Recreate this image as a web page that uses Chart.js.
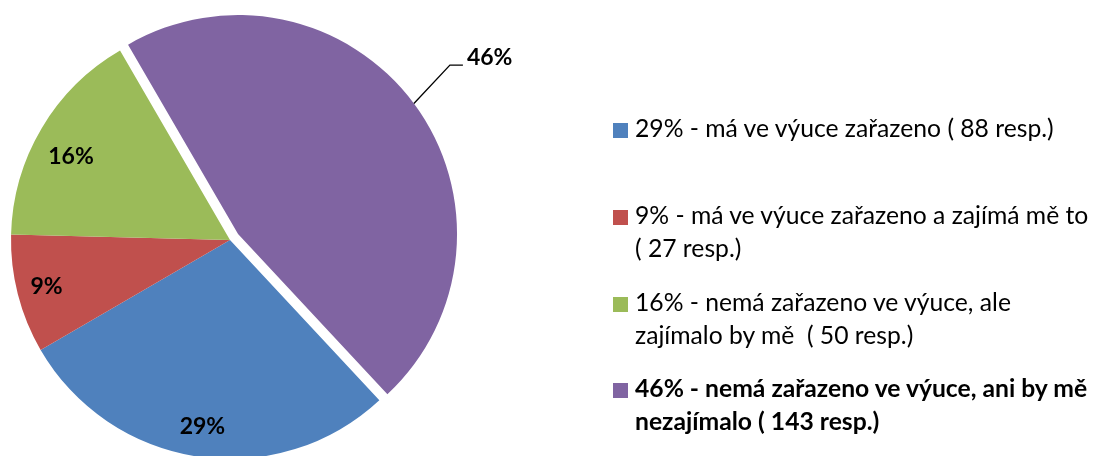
<!DOCTYPE html>
<html><head><meta charset="utf-8">
<script src="https://cdn.jsdelivr.net/npm/chart.js@4.4.1/dist/chart.umd.min.js"></script>
<style>
html,body{margin:0;padding:0;background:#fff;}
#wrap{position:relative;width:1095px;height:456px;overflow:hidden;background:#fff;}
#c{position:absolute;left:0;top:0;}
.item{position:absolute;left:613px;font-family:Lato,"Open Sans",sans-serif;font-size:24.7px;line-height:33px;color:#000;white-space:pre;}
.sw{position:absolute;left:0;top:12px;width:15px;height:15px;}
.txt{position:absolute;left:22px;top:0;}
.b{font-weight:bold;}
</style></head><body>
<div id="wrap"><canvas id="c" width="1095" height="456"></canvas><div id="legend"></div></div>
<script>
// ---- data ----
const categories = [
  "má ve výuce zařazeno",
  "má ve výuce zařazeno a zajímá mě to",
  "nemá zařazeno ve výuce, ale zajímalo by mě",
  "nemá zařazeno ve výuce, ani by mě nezajímalo"
];
const responses = [88, 27, 50, 143];
const legendLines = [
  ["29% - má ve výuce zařazeno ( 88 resp.)"],
  ["9% - má ve výuce zařazeno a zajímá mě to", "( 27 resp.)"],
  ["16% - nemá zařazeno ve výuce, ale", "zajímalo by mě  ( 50 resp.)"],
  ["46% - nemá zařazeno ve výuce, ani by mě", "nezajímalo ( 143 resp.)"]
];
const colors = ["#4F81BD", "#C0504D", "#9BBB59", "#8064A2"];
const boldItem = [false, false, false, true];
const explodeDist = [0, 0, 0, 10];
const labelRadius = [0.86, 0.865, 0.82, 1];
const labelAngleFrac = [0.5, 0.5, 0.45, 0.5];
const legendTops = [111, 198, 285, 371];

const total = responses.reduce((a, b) => a + b, 0);
const pct = responses.map(v => Math.round(v / total * 100));

// ---- legend (HTML text) ----
const lg = document.getElementById('legend');
legendLines.forEach((lines, i) => {
  const it = document.createElement('div');
  it.className = 'item' + (boldItem[i] ? ' b' : '');
  it.style.top = legendTops[i] + 'px';
  const sw = document.createElement('div');
  sw.className = 'sw'; sw.style.background = colors[i];
  const tx = document.createElement('div');
  tx.className = 'txt';
  tx.textContent = lines.join('\n');
  it.appendChild(sw); it.appendChild(tx);
  lg.appendChild(it);
});

// ---- plugins ----
const explodePlugin = {
  id: 'explode',
  afterDatasetsUpdate(chart) {
    const meta = chart.getDatasetMeta(0);
    meta.data.forEach((arc, i) => {
      const d = explodeDist[i];
      if (!d) return;
      const mid = (arc.startAngle + arc.endAngle) / 2;
      arc.x += Math.cos(mid) * d;
      arc.y += Math.sin(mid) * d;
    });
  }
};
const labelPlugin = {
  id: 'pctLabels',
  afterDatasetsDraw(chart) {
    const ctx = chart.ctx;
    const meta = chart.getDatasetMeta(0);
    ctx.save();
    ctx.font = 'bold 23px Lato, "Open Sans", sans-serif';
    ctx.fillStyle = '#000';
    ctx.textBaseline = 'middle';
    meta.data.forEach((arc, i) => {
      const r = arc.outerRadius;
      const txt = pct[i] + '%';
      if (i === 3) {
        const mid = (arc.startAngle + arc.endAngle) / 2;
        const px = arc.x + Math.cos(mid) * r, py = arc.y + Math.sin(mid) * r;
        const kx = px + 36, ky = py - 38.5;
        ctx.beginPath();
        ctx.moveTo(px, py); ctx.lineTo(kx, ky); ctx.lineTo(kx + 13, ky);
        ctx.strokeStyle = '#000'; ctx.lineWidth = 1.3; ctx.stroke();
        ctx.textAlign = 'left';
        ctx.fillText(txt, kx + 17, ky - 7);
      } else {
        const a = arc.startAngle + (arc.endAngle - arc.startAngle) * labelAngleFrac[i];
        const f = labelRadius[i];
        ctx.textAlign = 'center';
        ctx.fillText(txt, arc.x + Math.cos(a) * r * f, arc.y + Math.sin(a) * r * f);
      }
    });
    ctx.restore();
  }
};

new Chart(document.getElementById('c'), {
  type: 'pie',
  data: {
    labels: categories,
    datasets: [{ data: responses, backgroundColor: colors, borderWidth: 0 }]
  },
  options: {
    responsive: false,
    animation: false,
    events: [],
    rotation: 137,
    radius: 219,
    layout: { padding: { left: 0, right: 635, top: 24, bottom: 0 } },
    plugins: { legend: { display: false }, tooltip: { enabled: false } }
  },
  plugins: [explodePlugin, labelPlugin]
});
</script>
</body></html>
